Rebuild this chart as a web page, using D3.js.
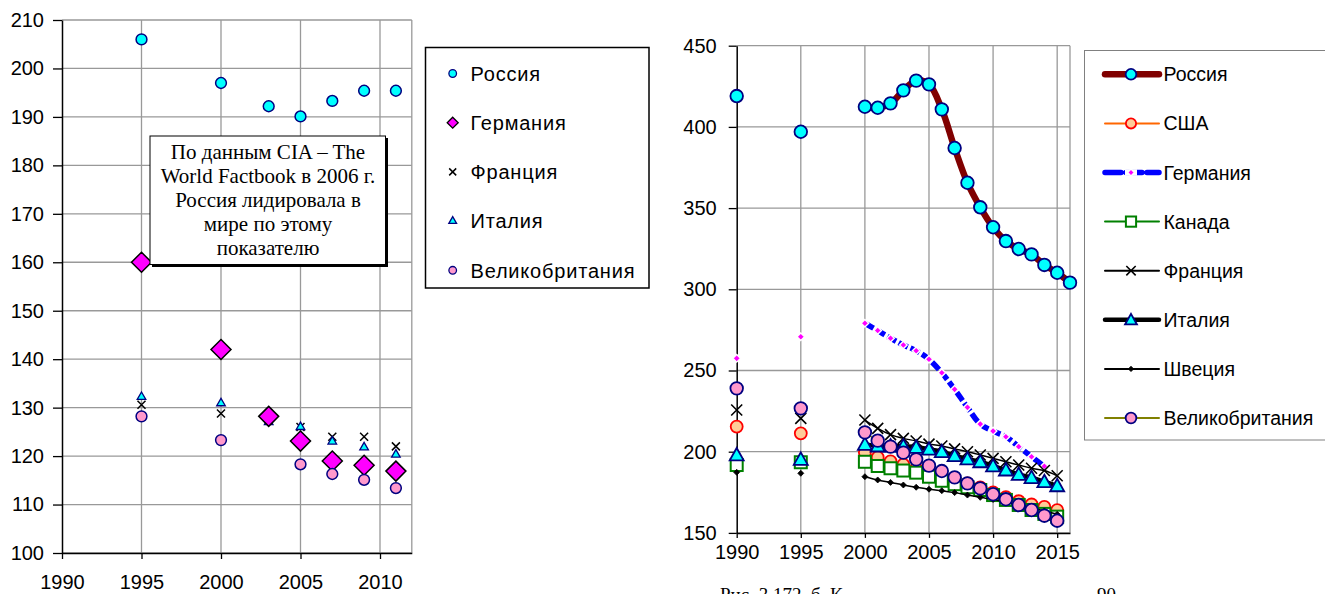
<!DOCTYPE html>
<html><head><meta charset="utf-8">
<script src="https://cdn.jsdelivr.net/npm/d3@7"></script>
<style>
body{margin:0;background:#fff;}
svg{display:block;}
</style></head>
<body>
<svg id="c" width="1325" height="594" font-family="Liberation Sans, Arial, sans-serif"></svg>
<script>
// ---------- LEFT CHART DATA ----------
const leftYears = [1995, 2000, 2003, 2005, 2007, 2009, 2011];
const leftRussia  = [206, 197, 192.2, 190.1, 193.3, 195.4, 195.4];
const leftGermany = [160, 142, 128.2, 123.1, 119, 118.1, 116.9];
const leftFrance  = [130.6, 128.8, 128, 126, 124, 124, 122];
const leftItaly   = [132.2, 130.9, 127, 126, 123, 121.8, 120.3];
const leftUK      = [128.2, 123.3, null, 118.3, 116.3, 115.1, 113.4];
const leftXTicks = [1990, 1995, 2000, 2005, 2010];
const leftYTicks = [100,110,120,130,140,150,160,170,180,190,200,210];
const leftLegend = ["Россия","Германия","Франция","Италия","Великобритания"];
const noteLines = ["По данным CIA – The","World Factbook в 2006 г.","Россия лидировала в","мире по этому","показателю"];

// ---------- RIGHT CHART DATA ----------
const rightYears = [1990,1995,2000,2001,2002,2003,2004,2005,2006,2007,2008,2009,2010,2011,2012,2013,2014,2015,2016];
const rRussia  = [419,397,412.4,411.8,414.5,422.5,428.5,426.2,410.8,387,365.6,350.5,338.2,329.7,324.8,321.5,315,310.2,304.1];
const rUSA     = [215.5,211.3,199.5,196.5,194,192,189.5,187,185,183,180.5,178,175,172,169.5,167.5,166,164,null];
const rGermany = [257.5,270.8,279.1,274.6,269.9,265.7,262.2,256.9,248.6,238.4,227.3,217,212.7,209.2,203.1,196.9,191,null,null];
const rCanada  = [191.8,193.5,193.8,191.2,189.8,188.4,187.1,184.6,182.1,180,178.1,176.4,173.3,170.3,167.2,164.1,161.7,160,null];
const rFrance  = [225.7,220.5,219.5,214.4,210.5,208.2,206.6,204.7,203.5,201.7,200,198,195.9,193.8,191.8,189.8,188.4,185.2,null];
const rItaly   = [198,195.3,204.5,203.5,203.5,203.5,202.7,201.5,200,197.5,195.5,193.8,191.2,188.7,186,184,181.5,179,null];
const rSweden  = [187.3,186.7,184.6,182.6,181.1,179.5,178.1,176.9,176,174.8,173.3,171.9,170.6,169,167.5,165.5,163.5,161.5,null];
const rUK      = [239,226.7,211.9,206.8,203.1,199.4,195.3,191.4,188.1,184.2,180.5,177.4,173.8,170.7,167.2,164.1,160.6,157.5,null];
const rightXTicks = [1990,1995,2000,2005,2010,2015];
const rightYTicks = [150,200,250,300,350,400,450];
const rightLegend = ["Россия","США","Германия","Канада","Франция","Италия","Швеция","Великобритания"];

const svg = d3.select("#c");
const GRID = "#999";
const SANS = "Liberation Sans, Arial, sans-serif";
const SERIF = "Liberation Serif, Times New Roman, serif";

// ================= LEFT CHART =================
const xL = d3.scaleLinear().domain([1990, 2012]).range([62, 411.8]);
const yL = d3.scaleLinear().domain([100, 210]).range([553, 20]);
const gL = svg.append("g");
gL.selectAll(".hg").data(leftYTicks).join("line")
  .attr("x1", xL(1990)).attr("x2", xL(2012)).attr("y1", d=>yL(d)).attr("y2", d=>yL(d))
  .attr("stroke", GRID).attr("stroke-width", 1.3);
gL.selectAll(".vg").data([1995,2000,2005,2010,2012]).join("line")
  .attr("x1", d=>xL(d)).attr("x2", d=>xL(d)).attr("y1", yL(210)).attr("y2", yL(100))
  .attr("stroke", GRID).attr("stroke-width", 1.3);
const axL = gL.append("g").attr("transform", `translate(${xL(1990)},0)`)
  .call(d3.axisLeft(yL).tickValues(leftYTicks).tickSize(9).tickPadding(9).tickSizeOuter(0));
const axLB = gL.append("g").attr("transform", `translate(0,${yL(100)})`)
  .call(d3.axisBottom(xL).tickValues(leftXTicks).tickFormat(d3.format("d")).tickSize(6).tickPadding(16).tickSizeOuter(0));
[axL, axLB].forEach(a=>{
  a.select(".domain").attr("stroke","#000").attr("stroke-width",1.5);
  a.selectAll(".tick line").attr("stroke","#000").attr("stroke-width",1.3);
  a.selectAll("text").attr("font-size",20).attr("fill","#000").attr("font-family",SANS);
});

const sym = (type, size) => d3.symbol().type(type).size(size)();
function xmark(g, cx, cy, h, sw){
  g.append("path").attr("d", `M${cx-h},${cy-h}L${cx+h},${cy+h}M${cx-h},${cy+h}L${cx+h},${cy-h}`)
   .attr("stroke","#000").attr("stroke-width",sw).attr("fill","none");
}
function pts(years, vals){ return years.map((y,i)=>({y, v: vals[i]})).filter(d=>d.v!=null); }

pts(leftYears,leftFrance).forEach(d=>xmark(gL, xL(d.y), yL(d.v), 4, 1.5));
gL.selectAll(".it").data(pts(leftYears,leftItaly)).join("path")
  .attr("d", sym(d3.symbolTriangle, 32)).attr("transform", d=>`translate(${xL(d.y)},${yL(d.v)})`)
  .attr("fill","#00ffff").attr("stroke","#000080").attr("stroke-width",1.3);
gL.selectAll(".de").data(pts(leftYears,leftGermany)).join("path")
  .attr("d", "M0,-10L10,0L0,10L-10,0Z").attr("transform", d=>`translate(${xL(d.y)},${yL(d.v)})`)
  .attr("fill","#ff00ff").attr("stroke","#000").attr("stroke-width",1.5);
gL.selectAll(".uk").data(pts(leftYears,leftUK)).join("circle")
  .attr("cx", d=>xL(d.y)).attr("cy", d=>yL(d.v)).attr("r",5.4)
  .attr("fill","#ff99cc").attr("stroke","#000080").attr("stroke-width",1.5);
gL.selectAll(".ru").data(pts(leftYears,leftRussia)).join("circle")
  .attr("cx", d=>xL(d.y)).attr("cy", d=>yL(d.v)).attr("r",5.4)
  .attr("fill","#00ffff").attr("stroke","#000080").attr("stroke-width",1.5);

// note box
const nb = gL.append("g");
nb.append("rect").attr("x",152).attr("y",138).attr("width",236).attr("height",129).attr("fill","#000");
nb.append("rect").attr("x",150).attr("y",136).attr("width",235.5).attr("height",128.5).attr("fill","#fff").attr("stroke","#000").attr("stroke-width",1);
nb.selectAll("text").data(noteLines).join("text")
  .attr("x", 268).attr("y", (d,i)=>158.5 + i*24.2).attr("text-anchor","middle")
  .attr("font-family",SERIF).attr("font-size",21).attr("fill","#000")
  .text(d=>d);

// left legend
const lg = svg.append("g");
lg.append("rect").attr("x",425.5).attr("y",47.5).attr("width",223.5).attr("height",240.5)
  .attr("fill","#fff").attr("stroke","#000").attr("stroke-width",1.5);
const lgY = i => 73.5 + i*49.2;
lg.selectAll("text").data(leftLegend).join("text")
  .attr("x",470.5).attr("y",(d,i)=>lgY(i)).attr("dy","0.36em").attr("font-size",20).attr("letter-spacing",0.8)
  .attr("font-family",SANS).attr("fill","#000").text(d=>d);
lg.append("circle").attr("cx",452.7).attr("cy",lgY(0)).attr("r",3.8).attr("fill","#00ffff").attr("stroke","#000080").attr("stroke-width",1.3);
lg.append("path").attr("d","M0,-5.5L5.5,0L0,5.5L-5.5,0Z").attr("transform",`translate(452.7,${lgY(1)})`).attr("fill","#ff00ff").attr("stroke","#000").attr("stroke-width",1.3);
xmark(lg, 452.7, lgY(2), 3.5, 1.5);
lg.append("path").attr("d", sym(d3.symbolTriangle, 26)).attr("transform",`translate(452.7,${lgY(3)})`).attr("fill","#00ffff").attr("stroke","#000080").attr("stroke-width",1.3);
lg.append("circle").attr("cx",452.7).attr("cy",lgY(4)).attr("r",3.8).attr("fill","#ff99cc").attr("stroke","#000080").attr("stroke-width",1.3);

// ================= RIGHT CHART =================
const xR = d3.scaleLinear().domain([1990, 2016]).range([736.7, 1070]);
const yR = d3.scaleLinear().domain([150, 450]).range([532.9, 45.7]);
const gR = svg.append("g");
gR.selectAll(".hg").data(rightYTicks).join("line")
  .attr("x1", xR(1990)).attr("x2", xR(2016)).attr("y1", d=>yR(d)).attr("y2", d=>yR(d))
  .attr("stroke", GRID).attr("stroke-width", 1.3);
gR.selectAll(".vg").data([1995,2000,2005,2010,2015,2016]).join("line")
  .attr("x1", d=>xR(d)).attr("x2", d=>xR(d)).attr("y1", yR(450)).attr("y2", yR(150))
  .attr("stroke", GRID).attr("stroke-width", 1.3);
const axR = gR.append("g").attr("transform", `translate(${xR(1990)},0)`)
  .call(d3.axisLeft(yR).tickValues(rightYTicks).tickSize(8).tickPadding(12).tickSizeOuter(0));
const axRB = gR.append("g").attr("transform", `translate(0,${yR(150)})`)
  .call(d3.axisBottom(xR).tickValues(rightXTicks).tickFormat(d3.format("d")).tickSize(5).tickPadding(7).tickSizeOuter(0));
[axR, axRB].forEach(a=>{
  a.select(".domain").attr("stroke","#000").attr("stroke-width",1.5);
  a.selectAll(".tick line").attr("stroke","#000").attr("stroke-width",1.3);
  a.selectAll("text").attr("font-size",20).attr("fill","#000").attr("font-family",SANS);
});

const rSeries = [
  {name:rightLegend[0], vals:rRussia, line:"#800000", lw:6.5, marker:"circle", r:6.3, fill:"#00ffff", stroke:"#000080"},
  {name:rightLegend[1], vals:rUSA, line:"#ff6600", lw:1.5, marker:"circle", r:6, fill:"#ffcc99", stroke:"#ff0000"},
  {name:rightLegend[2], vals:rGermany, line:"#0000ff", lw:5.5, dash:"10,3", marker:"sdiamond", r:3.8, fill:"#ff00ff", stroke:"#ffffff"},
  {name:rightLegend[3], vals:rCanada, line:"#008000", lw:1.5, marker:"square", r:6, fill:"#ffffff", stroke:"#008000"},
  {name:rightLegend[4], vals:rFrance, line:"#000000", lw:1.5, marker:"x", r:5.5, fill:"none", stroke:"#000"},
  {name:rightLegend[5], vals:rItaly, line:"#000000", lw:4.5, marker:"triangle", r:7, fill:"#00ffff", stroke:"#000080"},
  {name:rightLegend[6], vals:rSweden, line:"#000000", lw:1.5, marker:"sdiamond", r:3, fill:"#000", stroke:"#000"},
  {name:rightLegend[7], vals:rUK, line:"#808000", lw:1.5, marker:"circle", r:6.3, fill:"#ff99cc", stroke:"#000080"}
];

function drawMarker(g, s, cx, cy, scale){
  const r = s.r*scale;
  if(s.marker==="circle"){
    g.append("circle").attr("cx",cx).attr("cy",cy).attr("r",r).attr("fill",s.fill).attr("stroke",s.stroke).attr("stroke-width",1.8);
  } else if(s.marker==="square"){
    g.append("rect").attr("x",cx-r).attr("y",cy-r).attr("width",2*r).attr("height",2*r).attr("fill",s.fill).attr("stroke",s.stroke).attr("stroke-width",2);
  } else if(s.marker==="sdiamond"){
    g.append("path").attr("d",`M${cx},${cy-r}L${cx+r},${cy}L${cx},${cy+r}L${cx-r},${cy}Z`).attr("fill",s.fill)
     .attr("stroke",s.stroke).attr("stroke-width",s.stroke==="#ffffff"?1.4:0.8);
  } else if(s.marker==="x"){
    xmark(g, cx, cy, r, 1.6);
  } else if(s.marker==="triangle"){
    g.append("path").attr("d",`M${cx},${cy-r}L${cx+r},${cy+r*0.78}L${cx-r},${cy+r*0.78}Z`).attr("fill",s.fill).attr("stroke",s.stroke).attr("stroke-width",1.8);
  }
}

const lineGen = d3.line().defined(d=>d.v!=null && d.y>=2000)
  .x(d=>xR(d.y)).y(d=>yR(d.v)).curve(d3.curveCatmullRom.alpha(0.5));

rSeries.forEach(s=>{
  const data = rightYears.map((y,i)=>({y, v:s.vals[i]}));
  const g = gR.append("g");
  g.append("path").datum(data).attr("d", lineGen).attr("fill","none")
    .attr("stroke", s.line).attr("stroke-width", s.lw).attr("stroke-dasharray", s.dash||null)
    .attr("stroke-linejoin","round");
  data.filter(d=>d.v!=null).forEach(d=>drawMarker(g, s, xR(d.y), yR(d.v), 1));
});

// right legend
const rg = svg.append("g");
rg.append("rect").attr("x",1084.5).attr("y",50.5).attr("width",250).attr("height",389.5)
  .attr("fill","#fff").attr("stroke","#808080").attr("stroke-width",1);
const rgY = i => 74.3 + i*49.1;
rSeries.forEach((s,i)=>{
  const y = rgY(i);
  rg.append("line").attr("x1",1105).attr("x2",1159).attr("y1",y).attr("y2",y)
    .attr("stroke",s.line).attr("stroke-width",Math.max(s.lw,2)).attr("stroke-dasharray", s.dash?"16,5":null)
    .attr("stroke-linecap","round");
  if(s.dash){ rg.append("line").attr("x1",1125).attr("x2",1137).attr("y1",y).attr("y2",y).attr("stroke","#fff").attr("stroke-width",6.5); }
  drawMarker(rg, s, 1131, y, s.marker==="sdiamond"?0.9:0.85);
  rg.append("text").attr("x",1163.5).attr("y",y).attr("dy","0.36em").attr("font-size",19.5)
    .attr("font-family",SANS).attr("fill","#000").text(s.name);
});

// caption (clipped at bottom of page, as in the reference)
svg.append("text").attr("x",720).attr("y",601).attr("font-family",SERIF).attr("font-size",19).attr("fill","#000").text("Рис. 3.172. б. К");
svg.append("text").attr("x",1097).attr("y",601).attr("font-family",SERIF).attr("font-size",19).attr("fill","#000").text("90");
</script>
</body></html>
